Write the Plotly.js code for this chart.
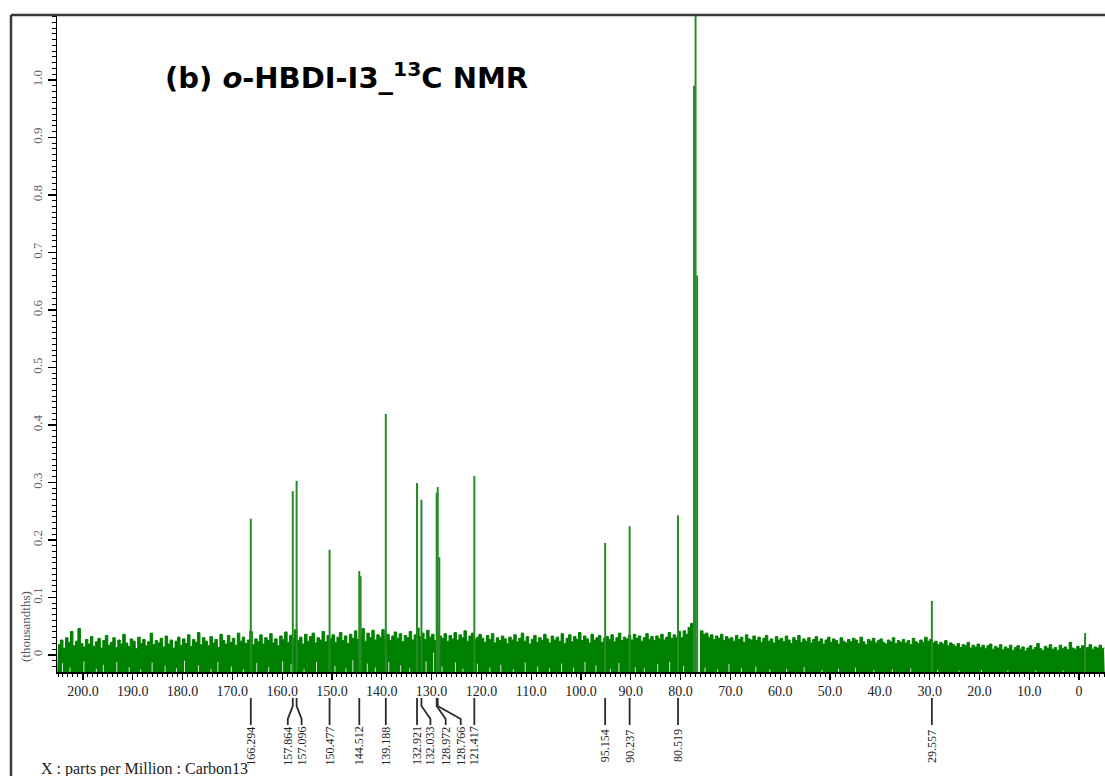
<!DOCTYPE html>
<html>
<head>
<meta charset="utf-8">
<script src="https://cdn.plot.ly/plotly-3.0.1.min.js"></script>
<style>
  html, body { margin: 0; padding: 0; background: #ffffff; }
  #chart { width: 1105px; height: 776px; }
</style>
</head>
<body>
<div id="chart"></div>
<script>
// 13C NMR spectrum of o-HBDI-I3, intensity in thousandths.

// Baseline noise: upper edge of the noise band, one value per 0.5 ppm from 205 down to -5.
const noiseStartPpm = 205;
const noiseStepPpm = 0.5;
const noiseTop = [
  0.018, 0.026, 0.012, 0.030, 0.022, 0.041, 0.016, 0.024, 0.046, 0.020,
  0.014, 0.027, 0.019, 0.032, 0.015, 0.023, 0.029, 0.012, 0.025, 0.034,
  0.017, 0.022, 0.030, 0.013, 0.026, 0.019, 0.036, 0.021, 0.015, 0.028,
  0.024, 0.011, 0.031, 0.020, 0.027, 0.016, 0.023, 0.038, 0.018, 0.025,
  0.021, 0.029, 0.014, 0.033, 0.019, 0.026, 0.012, 0.024, 0.031, 0.017,
  0.028, 0.020, 0.035, 0.015, 0.027, 0.022, 0.039, 0.018, 0.030, 0.024,
  0.016, 0.032, 0.021, 0.027, 0.013, 0.036, 0.025, 0.019, 0.034, 0.022,
  0.029, 0.017, 0.038, 0.024, 0.031, 0.020, 0.026, 0.041, 0.018, 0.028,
  0.023, 0.035, 0.019, 0.030, 0.025, 0.037, 0.021, 0.028, 0.016, 0.033,
  0.027, 0.040, 0.022, 0.034, 0.029, 0.044, 0.025, 0.031, 0.019, 0.036,
  0.024, 0.032, 0.038, 0.021, 0.030, 0.026, 0.041, 0.023, 0.034, 0.028,
  0.035, 0.022, 0.031, 0.039, 0.025, 0.033, 0.020, 0.036, 0.029, 0.042,
  0.027, 0.034, 0.046, 0.024, 0.038, 0.030, 0.043, 0.026, 0.035, 0.031,
  0.044, 0.028, 0.036, 0.025, 0.033, 0.040, 0.029, 0.037, 0.023, 0.034,
  0.030, 0.041, 0.026, 0.035, 0.047, 0.032, 0.038, 0.027, 0.043, 0.031,
  0.036, 0.025, 0.040, 0.033, 0.029, 0.037, 0.024, 0.034, 0.028, 0.039,
  0.026, 0.035, 0.030, 0.042, 0.024, 0.033, 0.038, 0.027, 0.031, 0.036,
  0.029, 0.022, 0.034, 0.027, 0.037, 0.021, 0.030, 0.025, 0.033, 0.028,
  0.020, 0.031, 0.026, 0.035, 0.023, 0.029, 0.038, 0.024, 0.032, 0.019,
  0.027, 0.034, 0.022, 0.030, 0.025, 0.036, 0.028, 0.021, 0.033, 0.026,
  0.031, 0.024, 0.037, 0.020, 0.029, 0.035, 0.023, 0.032, 0.027, 0.039,
  0.025, 0.033, 0.028, 0.021, 0.036, 0.026, 0.030, 0.034, 0.022, 0.029,
  0.032, 0.027, 0.035, 0.023, 0.030, 0.038, 0.025, 0.031, 0.028, 0.034,
  0.026, 0.036, 0.029, 0.033, 0.024, 0.030, 0.037, 0.027, 0.032, 0.025,
  0.033, 0.028, 0.036, 0.026, 0.031, 0.039, 0.029, 0.035, 0.030, 0.041,
  0.030, 0.042, 0.036, 0.048, 0.055, -0.040, -0.040, -0.040, 0.042, 0.036,
  0.038, 0.031, 0.035, 0.027, 0.033, 0.029, 0.036, 0.025, 0.032, 0.028,
  0.030, 0.024, 0.034, 0.027, 0.031, 0.022, 0.035, 0.028, 0.026, 0.033,
  0.025, 0.031, 0.022, 0.029, 0.034, 0.024, 0.028, 0.021, 0.032, 0.026,
  0.029, 0.023, 0.033, 0.026, 0.020, 0.030, 0.025, 0.034, 0.022, 0.028,
  0.024, 0.030, 0.021, 0.027, 0.032, 0.023, 0.028, 0.019, 0.026, 0.031,
  0.022, 0.028, 0.025, 0.019, 0.030, 0.024, 0.021, 0.027, 0.023, 0.029,
  0.026, 0.020, 0.031, 0.023, 0.018, 0.027, 0.024, 0.029, 0.021, 0.025,
  0.028, 0.022, 0.019, 0.026, 0.023, 0.030, 0.020, 0.025, 0.022, 0.027,
  0.021, 0.025, 0.018, 0.029, 0.023, 0.020, 0.026, 0.022, 0.031, 0.024,
  0.027, 0.021, 0.024, 0.018, 0.022, 0.019, 0.025, 0.016, 0.021, 0.018,
  0.015, 0.020, 0.013, 0.018, 0.016, 0.022, 0.012, 0.017, 0.014, 0.019,
  0.013, 0.017, 0.011, 0.016, 0.019, 0.010, 0.015, 0.012, 0.018, 0.009,
  0.014, 0.011, 0.017, 0.008, 0.013, 0.016, 0.010, 0.014, 0.007, 0.012,
  0.016, 0.009, 0.013, 0.020, 0.011, 0.008, 0.015, 0.012, 0.018, 0.010,
  0.013, 0.008, 0.017, 0.011, 0.014, 0.009, 0.022, 0.012, 0.010, 0.015,
  0.011, 0.016, 0.009, 0.013, 0.018, 0.010, 0.014, 0.012, 0.017, 0.011,
  0.013
];

// Downward noise excursions that open thin gaps in the lower part of the band (ppm, top of gap).
const dipPpm = [204.1, 202.6, 199.8, 197.3, 195.9, 193.2, 190.7, 188.4, 186.1, 183.5,
  181.2, 179.6, 176.8, 174.3, 172.9, 170.2, 167.8, 165.1, 162.7, 159.9,
  158.2, 155.6, 153.1, 149.4, 147.2, 145.8, 142.9, 141.3, 138.6, 136.2,
  134.4, 131.1, 129.6, 127.9, 125.2, 123.7, 120.8, 118.3, 116.1, 113.6,
  111.2, 108.7, 106.3, 103.9, 101.5, 99.2, 97.0, 94.1, 92.4, 89.1,
  87.3, 84.6, 82.2, 79.4, 75.1, 72.6, 70.3, 67.8, 64.9, 62.1,
  58.7, 55.2, 51.6, 48.3, 44.9, 41.2, 37.5, 33.8, 28.4, 24.1,
  19.6, 14.3, 8.7, 3.2];
const dipTop = [-0.014, -0.022, -0.011, -0.024, -0.017, -0.012, -0.021, -0.025, -0.013, -0.019,
  -0.023, -0.010, -0.018, -0.024, -0.012, -0.020, -0.025, -0.014, -0.021, -0.011,
  -0.016, -0.024, -0.012, -0.019, -0.023, -0.009, -0.015, -0.022, -0.012, -0.018,
  -0.023, -0.011, 0.004, -0.020, -0.013, -0.024, -0.015, -0.022, -0.017, -0.025,
  -0.013, -0.020, -0.023, -0.015, -0.022, -0.012, -0.018, -0.024, -0.014, -0.021,
  -0.023, -0.016, -0.012, -0.019, -0.022, -0.025, -0.016, -0.023, -0.020, -0.025,
  -0.024, -0.021, -0.026, -0.024, -0.022, -0.026, -0.025, -0.023, -0.026, -0.027,
  -0.026, -0.027, -0.027, -0.027];

// Resonances (ppm) and their heights; the CDCl3 triplet near 77 ppm runs off scale.
const peakPpm = [166.294, 157.864, 157.096, 150.477, 144.512, 144.250, 139.188,
  132.921, 132.033, 128.972, 128.766, 128.450, 121.417, 95.154, 90.237, 80.519,
  77.320, 77.000, 76.680, 29.557, -1.200];
const peakHeight = [0.237, 0.285, 0.303, 0.183, 0.146, 0.137, 0.419,
  0.299, 0.270, 0.282, 0.292, 0.170, 0.311, 0.195, 0.224, 0.243,
  0.990, 1.500, 0.660, 0.094, 0.038];

// Peak-pick list printed under the axis.
const labelPpm = [166.294, 157.864, 157.096, 150.477, 144.512, 139.188,
  132.921, 132.033, 128.972, 128.766, 121.417, 95.154, 90.237, 80.519, 29.557];
const labelText = ["166.294", "157.864", "157.096", "150.477", "144.512", "139.188",
  "132.921", "132.033", "128.972", "128.766", "121.417", "95.154", "90.237", "80.519", "29.557"];

// Axis ticks.
const xTickVals = [200, 190, 180, 170, 160, 150, 140, 130, 120, 110, 100, 90, 80, 70, 60, 50, 40, 30, 20, 10, 0];
const xTickText = ["200.0", "190.0", "180.0", "170.0", "160.0", "150.0", "140.0", "130.0", "120.0", "110.0",
  "100.0", "90.0", "80.0", "70.0", "60.0", "50.0", "40.0", "30.0", "20.0", "10.0", "0"];
const yTickVals = [0, 0.1, 0.2, 0.3, 0.4, 0.5, 0.6, 0.7, 0.8, 0.9, 1.0];
const yTickText = ["0", "0.1", "0.2", "0.3", "0.4", "0.5", "0.6", "0.7", "0.8", "0.9", "1.0"];

// ---- layout geometry ----
const W = 1105, H = 776;
const M = { l: 57, r: 0, t: 15, b: 0 };
const AXIS_PX = 672;                       // pixel row of the x axis line
const X_RANGE = [205.2, -5.2];
const Y_RANGE = [-0.0296, 1.113];
const plotW = W - M.l - M.r;
const plotH = H - M.t - M.b;
const mainBottom = (H - AXIS_PX) / plotH;  // domain fraction where the spectrum panel starts
const pxPerPpm = plotW / (X_RANGE[0] - X_RANGE[1]);
const GREEN = 'rgb(0,128,0)';
const SERIF = 'Liberation Serif, Times New Roman, serif';

// Horizontal nudges (px) that fan out crowded peak labels.
const labelShiftPx = [0, -5, 5, 0, 0, 0, 0, 9, 9, 23, 0, 0, 0, 0, 0];
// Connector rows, in px below the axis line.
const CONN_TOP = -26, CONN_BEND1 = -34, CONN_BEND2 = -47, CONN_END = -53, LABEL_MID = -74;

function paperX(px) { return (px - M.l) / plotW; }
function paperY(py) { return (H - M.b - py) / plotH; }

// noise band
const noiseX = noiseTop.map((_, i) => noiseStartPpm - i * noiseStepPpm);
const bandFloor = {
  x: [X_RANGE[0], X_RANGE[1]], y: [Y_RANGE[0] - 0.02, Y_RANGE[0] - 0.02],
  mode: 'lines', line: { width: 0, color: GREEN }, hoverinfo: 'skip', showlegend: false
};
const band = {
  x: noiseX, y: noiseTop, mode: 'lines', fill: 'tonexty', fillcolor: GREEN,
  line: { color: GREEN, width: 1, shape: 'hv' }, hoverinfo: 'skip', showlegend: false
};

// gaps left by the downward excursions
const dx = [], dy = [];
dipPpm.forEach((p, i) => { dx.push(p, p, null); dy.push(Y_RANGE[0] - 0.01, dipTop[i], null); });
const dips = {
  x: dx, y: dy, mode: 'lines', line: { color: 'rgba(255,255,255,0.8)', width: 1 },
  hoverinfo: 'skip', showlegend: false
};

// peak sticks
const px = [], py = [];
peakPpm.forEach((p, i) => { px.push(p, p, null); py.push(Y_RANGE[0], peakHeight[i], null); });
const peaks = {
  x: px, y: py, mode: 'lines', line: { color: 'rgb(38,140,38)', width: 2 },
  hoverinfo: 'skip', showlegend: false
};

// connectors from each picked peak down to its label
const cx = [], cy = [];
const labelX = labelPpm.map((p, i) => p - labelShiftPx[i] / pxPerPpm);
labelPpm.forEach((p, i) => {
  if (labelShiftPx[i] === 0) {
    cx.push(p, p, null); cy.push(CONN_TOP, CONN_END, null);
  } else {
    cx.push(p, p, labelX[i], labelX[i], null);
    cy.push(CONN_TOP, CONN_BEND1, CONN_BEND2, CONN_END, null);
  }
});
const connectors = {
  x: cx, y: cy, xaxis: 'x', yaxis: 'y2', mode: 'lines',
  line: { color: '#2a2a2a', width: 1.8 }, hoverinfo: 'skip', showlegend: false
};

const annotations = labelText.map((t, i) => ({
  x: labelX[i], y: LABEL_MID, xref: 'x', yref: 'y2', text: t, showarrow: false,
  textangle: -90, xanchor: 'center', yanchor: 'middle',
  font: { family: SERIF, size: 12, color: '#1e1e1e' }
}));

annotations.push({
  xref: 'paper', yref: 'paper', x: paperX(163), y: paperY(76), xanchor: 'left', yanchor: 'middle',
  text: '<b>(b) <i>o</i>-HBDI-I3_<sup>13</sup>C NMR</b>', showarrow: false,
  font: { family: 'DejaVu Sans, sans-serif', size: 29, color: '#000' }
});
annotations.push({
  xref: 'paper', yref: 'paper', x: paperX(25), y: paperY(627), xanchor: 'center', yanchor: 'middle',
  text: '(thousandths)', textangle: -90, showarrow: false,
  font: { family: SERIF, size: 13, color: '#555' }
});
annotations.push({
  xref: 'paper', yref: 'paper', x: paperX(39), y: paperY(769), xanchor: 'left', yanchor: 'middle',
  text: 'X : parts per Million : Carbon13', showarrow: false,
  font: { family: SERIF, size: 16, color: '#222' }
});

const frameX = paperX(11);
const frameTop = paperY(15);
const shapes = [
  { type: 'line', xref: 'paper', yref: 'paper', x0: frameX, x1: frameX, y0: -0.02, y1: frameTop,
    line: { color: '#3a3a3a', width: 2.5 } },
  { type: 'line', xref: 'paper', yref: 'paper', x0: frameX, x1: 1.02, y0: frameTop, y1: frameTop,
    line: { color: '#3a3a3a', width: 2.5 } }
];

const layout = {
  width: W, height: H, margin: M,
  paper_bgcolor: '#ffffff', plot_bgcolor: '#ffffff',
  showlegend: false,
  xaxis: {
    range: X_RANGE, anchor: 'y', showgrid: false, zeroline: false,
    showline: true, linecolor: '#000', linewidth: 1.5,
    tickmode: 'array', tickvals: xTickVals, ticktext: xTickText,
    ticks: 'outside', ticklen: 6, tickwidth: 1.2, tickcolor: '#000',
    minor: { dtick: 1, tick0: 0, ticks: 'outside', ticklen: 3, tickwidth: 1, tickcolor: '#000', showgrid: false },
    tickfont: { family: SERIF, size: 14, color: '#222' }
  },
  yaxis: {
    domain: [mainBottom, 1], range: Y_RANGE, showgrid: false, zeroline: false,
    showline: true, linecolor: '#000', linewidth: 1.5,
    tickmode: 'array', tickvals: yTickVals, ticktext: yTickText, tickangle: -90,
    ticks: 'outside', ticklen: 8, tickwidth: 1.2, tickcolor: '#000',
    minor: { dtick: 0.01, tick0: 0, ticks: 'outside', ticklen: 4, tickwidth: 1, tickcolor: '#000', showgrid: false },
    tickfont: { family: SERIF, size: 13, color: '#5f6670' }
  },
  yaxis2: {
    domain: [0, mainBottom], range: [-(H - AXIS_PX), 0], anchor: 'x',
    visible: false, showgrid: false, zeroline: false, fixedrange: true
  },
  annotations: annotations,
  shapes: shapes
};

Plotly.newPlot('chart', [bandFloor, band, dips, peaks, connectors], layout, { displayModeBar: false, staticPlot: true });
</script>
</body>
</html>
